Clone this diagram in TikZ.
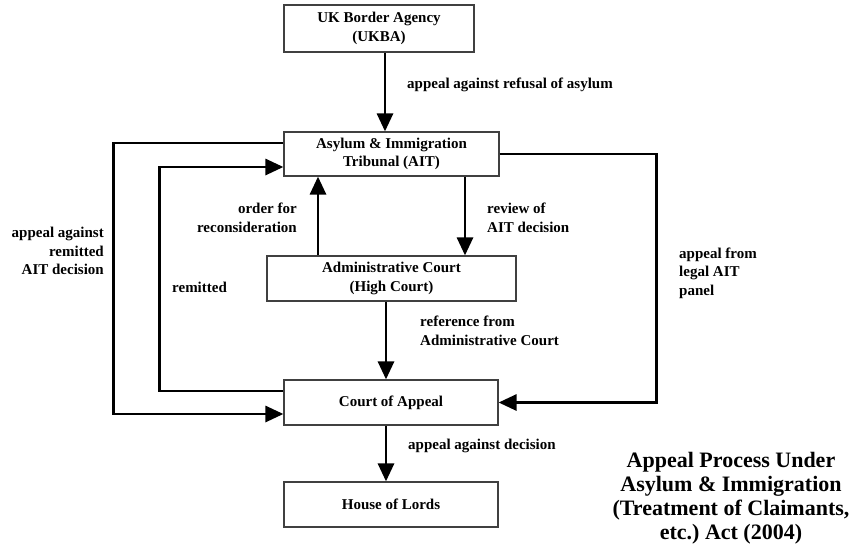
\documentclass[tikz,border=0pt]{standalone}
\usepackage{fontspec}
\setmainfont{Liberation Serif}
\usetikzlibrary{arrows.meta,calc,positioning}
\frenchspacing

\begin{document}
\begin{tikzpicture}[x=1pt,y=-1pt,
    every node/.style={font=\bfseries\fontsize{15}{18.5}\selectfont},
    court/.style={draw=black!75,line width=1.2pt,minimum width=214pt,minimum height=45pt,align=center,inner sep=0pt},
    arr/.style={line width=2.9pt,-{Triangle[length=18pt,width=16pt]}},
    lab/.style={inner sep=0pt}]
    \useasboundingbox (0,0) rectangle (856,555);

    % boxes
    \node[court,minimum width=190pt,minimum height=47pt] (ukba) at (379,28.5) {UK Border Agency\\(UKBA)};
    \node[court,minimum width=215pt,minimum height=44pt] (ait) at (391.5,154) {Asylum \& Immigration\\Tribunal (AIT)};
    \node[court,minimum width=249pt] (adm) at (391.5,278.5) {Administrative Court\\(High Court)};
    \node[court] (coa) at (391,402.5) {Court of Appeal};
    \node[court] (hol) at (391,504.5) {House of Lords};

    \coordinate (xa) at (385,0);
    \coordinate (xb) at (318,0);
    \coordinate (xc) at (465,0);
    \coordinate (xd) at (386,0);

    % straight connectors
    \draw[arr] (ukba.south -| xa) -- (ait.north -| xa);
    \draw[arr] (adm.north -| xb) -- (ait.south -| xb);
    \draw[arr] (ait.south -| xc) -- (adm.north -| xc);
    \draw[arr] (adm.south -| xd) -- (coa.north -| xd);
    \draw[arr] (coa.south -| xd) -- (hol.north -| xd);

    % loops round the side
    \draw[arr] ([yshift=11pt]ait.west) -- ++(-170,0) |- ([yshift=-11.5pt]coa.west);
    \draw[arr] ([yshift=11.5pt]coa.west) -- ++(-124,0) |- ([yshift=-13pt]ait.west);
    \draw[arr] (ait.east) -- ++(157,0) |- (coa.east);

    % labels
    \node[lab,anchor=west] (l1) at (407,85) {appeal against refusal of asylum};
    \node[lab,anchor=east,align=right] (l2) at (297,218) {order for\\reconsideration};
    \node[lab,anchor=west,align=left] (l3) at (487,218) {review of\\AIT decision};
    \node[lab,anchor=west] (l4) at (172,287) {remitted};
    \node[lab,anchor=east,align=right] (l5) at (104,251) {appeal against\\remitted\\AIT decision};
    \node[lab,anchor=west,align=left] (l6) at (679,273) {appeal from\\legal AIT\\panel};
    \node[lab,anchor=west,align=left] (l7) at (420,331) {reference from\\Administrative Court};
    \node[lab,anchor=west] (l8) at (408,446) {appeal against decision};

    \node[lab,align=center,font=\bfseries\fontsize{22}{23.8}\selectfont] (title) at (731,498)
      {Appeal Process Under\\Asylum \& Immigration\\(Treatment of Claimants,\\etc.) Act (2004)};
\end{tikzpicture}
\end{document}
